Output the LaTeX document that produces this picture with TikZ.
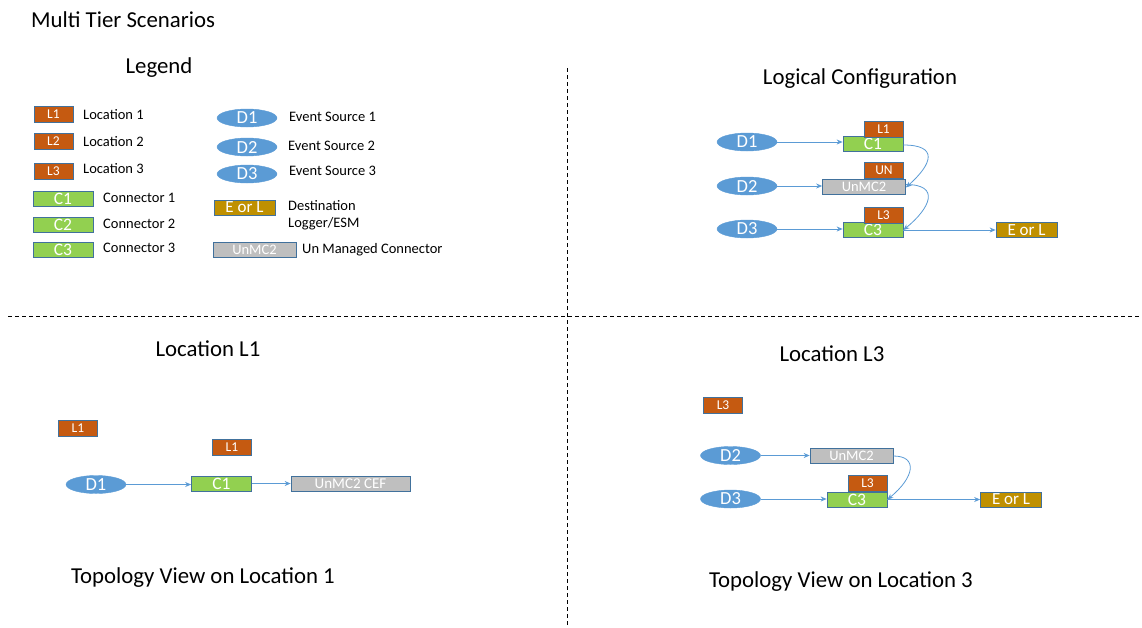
\documentclass[tikz,border=0pt]{standalone}
\usepackage{fontspec}
\setmainfont{Carlito}
\usetikzlibrary{shapes.geometric,arrows.meta}
\definecolor{locor}{HTML}{C55A11}
\definecolor{congr}{HTML}{92D050}
\definecolor{unmgr}{HTML}{BFBFBF}
\definecolor{dstgd}{HTML}{BF9000}
\definecolor{srcbl}{HTML}{5B9BD5}
\definecolor{bord}{HTML}{41719C}
\definecolor{arrbl}{HTML}{5B9BD5}
\tikzset{
  fsz/.style={font=\fontsize{#1}{#1}\selectfont},
  boxbase/.style={rectangle, draw=bord, line width=0.7pt, text=white, inner sep=0pt},
  loc/.style={boxbase, fill=locor, minimum width=39pt, minimum height=16pt, fsz=13.5},
  con/.style={boxbase, fill=congr, minimum width=60pt, minimum height=15pt, fsz=17.5},
  unm/.style={boxbase, fill=unmgr, minimum width=83pt, minimum height=15pt, fsz=14.5},
  dest/.style={boxbase, fill=dstgd, minimum width=61pt, minimum height=15pt, fsz=17},
  src/.style={ellipse, fill=srcbl, draw=srcbl, text=white, minimum width=60pt, minimum height=18pt, inner sep=0pt, fsz=18.5},
  lbl/.style={anchor=west, inner sep=0pt, fsz=14.5, align=left},
  head/.style={inner sep=0pt, fsz=22.8},
  arr/.style={draw=arrbl, line width=0.8pt, -{Stealth[length=6pt,width=5pt]}},
  sep/.style={draw=black, line width=0.9pt, dash pattern=on 4pt off 3pt},
}
\begin{document}
\begin{tikzpicture}[x=1pt,y=-1pt]
\useasboundingbox (0,0) rectangle (1142,627);
% separators
\draw[sep] (567,68) -- (567,627);
\draw[sep] (8,316) -- (1142,316);
% headings
\node[head, anchor=west] (title) at (31,20) {Multi Tier Scenarios};
\node[head] (hleg) at (159,68) {Legend};
\node[head] (hlog) at (860,79) {Logical Configuration};
\node[head] (hl1) at (208,349) {Location L1};
\node[head] (hl3) at (832,354) {Location L3};
\node[head] (ht1) at (203,578) {Topology View on Location 1};
\node[head] (ht3) at (841,582) {Topology View on Location 3};
% legend
\node[loc] (gL1) at (53.5,114) {L1};
\node[lbl] (gL1t) at (83,115) {Location 1};
\node[loc] (gL2) at (53.5,141) {L2};
\node[lbl] (gL2t) at (83,142) {Location 2};
\node[loc] (gL3) at (53.5,171) {L3};
\node[lbl] (gL3t) at (83,169) {Location 3};
\node[con] (gC1) at (63,198.5) {C1};
\node[lbl] (gC1t) at (103,198) {Connector 1};
\node[con] (gC2) at (63,224.5) {C2};
\node[lbl] (gC2t) at (103,224) {Connector 2};
\node[con] (gC3) at (63,249.5) {C3};
\node[lbl] (gC3t) at (103,248) {Connector 3};
\node[src] (gD1) at (247,118) {D1};
\node[lbl] (gD1t) at (289,117) {Event Source 1};
\node[src] (gD2) at (247,147) {D2};
\node[lbl] (gD2t) at (288,146) {Event Source 2};
\node[src] (gD3) at (247,174) {D3};
\node[lbl] (gD3t) at (289,171) {Event Source 3};
\node[dest] (gE) at (244.5,207.5) {E or L};
\node[lbl] (gEt) at (288,215) {Destination\\[2pt]Logger/ESM};
\node[unm] (gU) at (254.5,250) {UnMC2};
\node[lbl] (gUt) at (302,250) {Un Managed Connector};
% logical configuration
\node[src] (lD1) at (747,142) {D1};
\node[con] (lC1) at (873,144) {C1};
\node[loc] (lL1) at (883.5,129) {L1};
\node[src] (lD2) at (747,186) {D2};
\node[unm] (lU) at (864,186.5) {UnMC2};
\node[loc] (lUN) at (884,170) {UN};
\node[src] (lD3) at (747,229) {D3};
\node[con] (lC3) at (873,230) {C3};
\node[loc] (lL3) at (883.5,215) {L3};
\node[dest] (lE) at (1026.5,230) {E or L};
\draw[arr] (lD1.east) -- (lD1.east -| lC1.west);
\draw[arr] (lD2.east) -- (lD2.east -| lU.west);
\draw[arr] (lD3.east) -- (lD3.east -| lC3.west);
\draw[arr] (lC3.east) -- (lE.west);
\draw[arr] ([yshift=-1pt]lC1.east) .. controls +(35,0) and +(27,-24) .. ([yshift=-1pt]lU.east);
\draw[arr] ([yshift=2pt]lU.east) .. controls +(35,0) and +(27,-22) .. (lC3.east);
% location L1
\node[loc] (aL1) at (78,428) {L1};
\node[loc] (aL1b) at (232,447.5) {L1};
\node[src] (aD1) at (96,484.5) {D1};
\node[con] (aC1) at (221.5,483.5) {C1};
\node[unm, minimum width=119pt, fsz=15] (aU) at (350.5,483.5) {UnMC2 CEF};
\draw[arr] (aD1.east) -- (aD1.east -| aC1.west);
\draw[arr] (aC1) -- (aU);
% location L3
\node[loc] (bL3) at (723,405.5) {L3};
\node[src] (bD2) at (730.5,455.5) {D2};
\node[unm] (bU) at (851.5,456) {UnMC2};
\node[loc] (bL3b) at (867.5,483.5) {L3};
\node[src] (bD3) at (730.5,499) {D3};
\node[con] (bC3) at (857,499.5) {C3};
\node[dest] (bE) at (1011,499.5) {E or L};
\draw[arr] (bD2.east) -- (bD2.east -| bU.west);
\draw[arr] (bD3.east) -- (bD3.east -| bC3.west);
\draw[arr] (bC3) -- (bE);
\draw[arr] (bU.east) .. controls +(25,0) and +(27,-22) .. (bC3.east);
\end{tikzpicture}
\end{document}
